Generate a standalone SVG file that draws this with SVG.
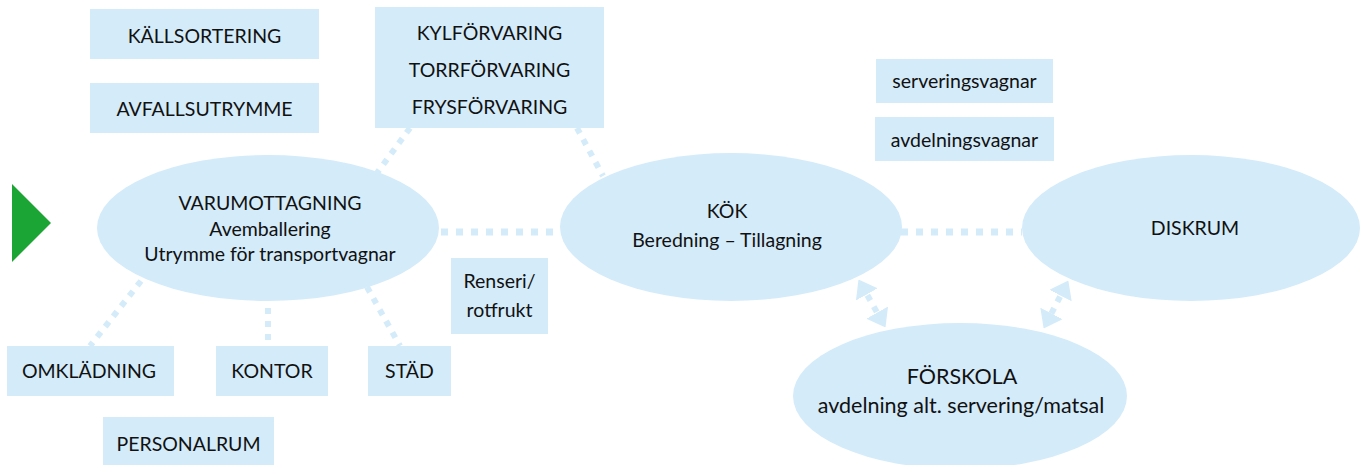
<svg xmlns="http://www.w3.org/2000/svg" width="1371" height="465" viewBox="0 0 1371 465">
<defs>
<style>
.box{fill:#d4ebfa}
.ell{fill:#d4ebfa}
.t{font-family:Lato,"Liberation Sans",sans-serif;font-size:19.5px;fill:#111;text-anchor:middle}
.big{font-size:21.5px}
.dot{stroke:#d4ebfa;stroke-width:7;fill:none;stroke-dasharray:7 8}
.dotd{stroke:#d4ebfa;stroke-width:6;fill:none;stroke-dasharray:6 7}
</style>
<marker id="ah" viewBox="0 0 10 10" refX="7" refY="5" markerWidth="17" markerHeight="25" preserveAspectRatio="none" markerUnits="userSpaceOnUse" orient="auto-start-reverse">
<path d="M0,0 L10,5 L0,10 Z" fill="#d4ebfa"/>
</marker>
</defs>
<rect width="1371" height="465" fill="#fff"/>
<g id="connectors">
<line class="dot" x1="441" y1="232" x2="557" y2="232"/>
<line class="dot" x1="901" y1="232" x2="1022" y2="232"/>
<line class="dotd" x1="410" y1="128" x2="377" y2="173"/>
<line class="dotd" x1="577" y1="128" x2="603" y2="176"/>
<line class="dotd" x1="141" y1="281" x2="90" y2="346"/>
<line class="dotd" x1="268" y1="308" x2="268" y2="346"/>
<line class="dotd" x1="367" y1="287" x2="400" y2="346"/>
<line class="dotd" x1="861" y1="284" x2="883" y2="323" marker-start="url(#ah)" marker-end="url(#ah)"/>
<line class="dotd" x1="1066" y1="285" x2="1046" y2="324" marker-start="url(#ah)" marker-end="url(#ah)"/>
</g>
<g id="arrow-in"><polygon points="12,184 51,223 12,262" fill="#1aa535"/></g>
<g id="kallsortering"><rect class="box" x="90" y="9" width="229" height="50"/><text class="t" x="204.5" y="43">KÄLLSORTERING</text></g>
<g id="avfallsutrymme"><rect class="box" x="90" y="83" width="229" height="50"/><text class="t" x="204.5" y="116">AVFALLSUTRYMME</text></g>
<g id="forvaring"><rect class="box" x="375" y="7" width="229" height="121"/>
<text class="t" x="489.5" y="40">KYLFÖRVARING</text>
<text class="t" x="489.5" y="77">TORRFÖRVARING</text>
<text class="t" x="489.5" y="114">FRYSFÖRVARING</text></g>
<g id="serveringsvagnar"><rect class="box" x="876" y="59" width="177" height="44"/><text class="t" x="964.5" y="88">serveringsvagnar</text></g>
<g id="avdelningsvagnar"><rect class="box" x="875" y="117" width="179" height="44"/><text class="t" x="964.5" y="147">avdelningsvagnar</text></g>
<g id="varumottagning"><ellipse class="ell" cx="268" cy="228" rx="171" ry="73"/>
<text class="t" x="270" y="210">VARUMOTTAGNING</text>
<text class="t" x="270" y="236">Avemballering</text>
<text class="t" x="270" y="261">Utrymme för transportvagnar</text></g>
<g id="kok"><ellipse class="ell" cx="731" cy="227" rx="171" ry="74"/>
<text class="t" x="727" y="218">KÖK</text>
<text class="t" x="727" y="247">Beredning – Tillagning</text></g>
<g id="diskrum"><ellipse class="ell" cx="1191" cy="228" rx="169" ry="73"/>
<text class="t" x="1195" y="235">DISKRUM</text></g>
<g id="forskola"><ellipse class="ell" cx="960" cy="396" rx="167" ry="73"/>
<text class="t big" x="962" y="384">FÖRSKOLA</text>
<text class="t big" x="961" y="413">avdelning alt. servering/matsal</text></g>
<g id="renseri"><rect class="box" x="451" y="258" width="97" height="76"/>
<text class="t" x="499.5" y="288">Renseri/</text>
<text class="t" x="499.5" y="317">rotfrukt</text></g>
<g id="omkladning"><rect class="box" x="7" y="346" width="167" height="50"/><text class="t" x="89" y="378">OMKLÄDNING</text></g>
<g id="kontor"><rect class="box" x="216" y="346" width="112" height="50"/><text class="t" x="272" y="378">KONTOR</text></g>
<g id="stad"><rect class="box" x="368" y="346" width="83" height="50"/><text class="t" x="409.5" y="378">STÄD</text></g>
<g id="personalrum"><rect class="box" x="103" y="417" width="171" height="48"/><text class="t" x="188.5" y="451">PERSONALRUM</text></g>
</svg>
